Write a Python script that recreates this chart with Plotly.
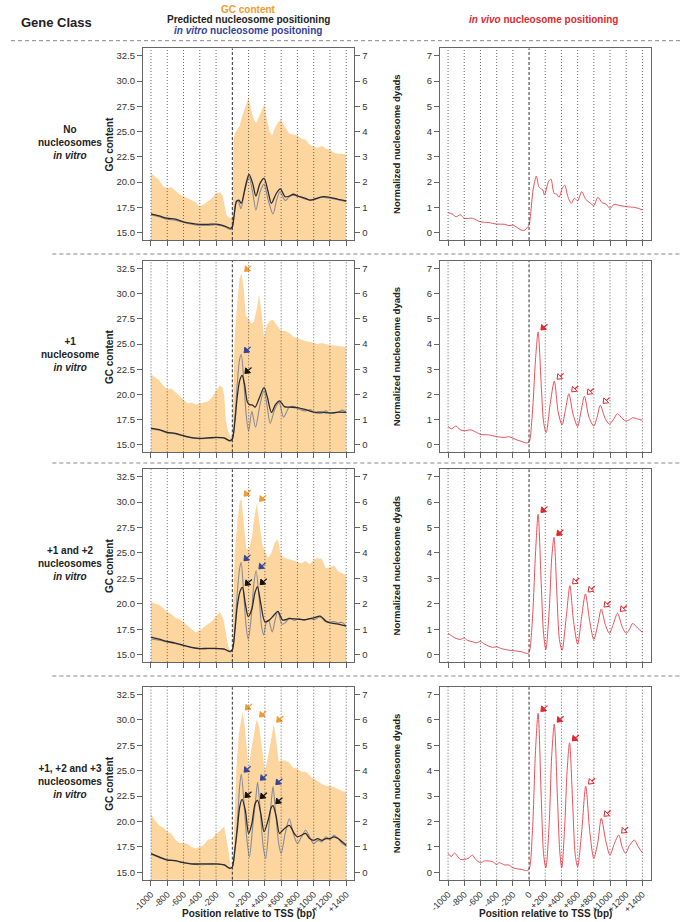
import plotly.graph_objects as go

W, H = 682, 922
FONT = "Liberation Sans, Arial, sans-serif"

# ---------------- data ----------------
X_TICKS = [-1000, -800, -600, -400, -200, 0, 200, 400, 600, 800, 1000, 1200, 1400]
X_LABELS = ["-1000", "-800", "-600", "-400", "-200", "0", "+200", "+400", "+600",
            "+800", "+1000", "+1200", "+1400"]
GC_TICKS = [15.0, 17.5, 20.0, 22.5, 25.0, 27.5, 30.0, 32.5]
NUC_TICKS = [0, 1, 2, 3, 4, 5, 6, 7]

ROW_LABELS = ["No<br>nucleosomes<br><i>in vitro</i>",
              "+1<br>nucleosome<br><i>in vitro</i>",
              "+1 and +2<br>nucleosomes<br><i>in vitro</i>",
              "+1, +2 and +3<br>nucleosomes<br><i>in vitro</i>"]

# GC content (%), position (bp)
gc1 = [(-1000, 20.9), (-950, 20.5), (-900, 20.2), (-850, 19.6), (-800, 19.4), (-750, 19.5), (-700, 19.1),
       (-650, 18.8), (-600, 18.6), (-550, 18.4), (-500, 18.2), (-450, 18.0), (-400, 17.6), (-350, 17.8),
       (-300, 18.1), (-250, 18.4), (-200, 18.9), (-150, 19.0), (-120, 18.7), (-100, 17.9), (-85, 17.0),
       (-70, 16.7), (-40, 16.5), (-10, 16.4), (0, 16.8), (15, 24.3), (30, 24.8), (60, 25.2), (90, 25.6),
       (120, 26.5), (160, 27.5), (200, 28.4), (230, 27.2), (260, 26.3), (290, 25.8), (330, 26.5),
       (370, 27.3), (395, 27.7), (420, 26.4), (460, 25.0), (490, 24.6), (520, 25.3), (560, 25.9),
       (600, 26.2), (640, 25.5), (700, 24.8), (750, 24.7), (800, 24.6), (850, 24.3), (900, 24.2),
       (950, 23.7), (1000, 23.5), (1050, 23.4), (1100, 23.6), (1150, 23.3), (1200, 23.2), (1250, 22.9),
       (1300, 22.8), (1350, 22.8), (1400, 22.7)]
gc2 = [(-1000, 22.0), (-950, 21.7), (-900, 21.4), (-850, 20.9), (-800, 20.5), (-750, 20.6), (-700, 20.2),
       (-650, 19.9), (-600, 19.4), (-550, 19.1), (-500, 19.2), (-450, 19.0), (-400, 19.1), (-350, 19.2),
       (-300, 19.3), (-250, 19.7), (-200, 20.4), (-150, 20.9), (-120, 20.7), (-100, 19.9), (-80, 17.5),
       (-50, 16.3), (-20, 15.8), (0, 16.0), (10, 20.0), (30, 26.0), (60, 29.0), (90, 31.5), (115, 32.0),
       (140, 30.5), (165, 27.8), (200, 27.5), (240, 27.0), (265, 27.2), (300, 28.5), (330, 29.9),
       (360, 28.0), (390, 25.6), (420, 26.8), (460, 27.3), (500, 27.4), (550, 26.8), (600, 26.3),
       (650, 26.3), (700, 26.1), (750, 25.7), (800, 25.6), (900, 25.3), (1000, 25.1), (1050, 25.0),
       (1100, 25.1), (1200, 24.9), (1300, 24.8), (1400, 24.7)]
gc3 = [(-1000, 20.2), (-950, 20.0), (-900, 19.9), (-850, 19.6), (-800, 19.2), (-750, 19.0), (-700, 18.6),
       (-650, 18.5), (-600, 18.2), (-550, 17.8), (-500, 17.5), (-450, 17.2), (-400, 17.4), (-350, 17.7),
       (-300, 18.0), (-250, 18.3), (-200, 18.8), (-150, 19.2), (-110, 18.5), (-80, 17.0), (-50, 15.8),
       (-20, 15.4), (0, 15.6), (10, 20.0), (30, 25.0), (60, 28.0), (90, 30.0), (110, 30.4), (140, 28.0),
       (170, 25.5), (200, 25.3), (240, 26.5), (270, 28.5), (300, 29.9), (340, 27.5), (370, 25.8),
       (410, 25.0), (440, 24.5), (480, 25.0), (520, 26.0), (560, 26.4), (590, 25.0), (620, 24.6),
       (700, 24.4), (800, 24.1), (850, 24.0), (900, 24.2), (950, 23.9), (1000, 24.3), (1050, 24.5),
       (1100, 24.4), (1150, 23.5), (1200, 23.6), (1250, 23.8), (1300, 23.2), (1350, 23.0), (1400, 22.8)]
gc4 = [(-1000, 20.8), (-950, 20.1), (-900, 19.6), (-850, 19.45), (-800, 19.0), (-750, 18.8), (-700, 18.2),
       (-650, 17.9), (-600, 17.9), (-550, 17.8), (-500, 17.5), (-450, 17.35), (-400, 17.5), (-350, 17.7),
       (-300, 18.2), (-250, 18.3), (-200, 18.8), (-150, 19.1), (-100, 19.5), (-75, 18.5), (-50, 17.2),
       (-20, 15.6), (0, 15.4), (15, 17.5), (30, 22.0), (50, 25.3), (80, 28.6), (110, 30.2), (125, 30.8),
       (150, 29.5), (180, 27.0), (200, 25.3), (230, 27.0), (270, 28.9), (300, 30.1), (330, 29.3),
       (370, 26.6), (400, 25.0), (430, 26.0), (470, 28.0), (510, 29.6), (540, 28.0), (570, 25.9),
       (600, 26.0), (650, 26.0), (700, 25.8), (750, 25.3), (800, 25.2), (850, 24.9), (900, 24.9),
       (950, 24.5), (1000, 24.2), (1050, 24.0), (1100, 23.7), (1150, 23.5), (1200, 23.5), (1250, 23.4),
       (1300, 23.2), (1350, 23.0), (1400, 22.9)]

# Predicted nucleosome positioning (normalized dyads)
pred1 = [(-1000, 0.74), (-900, 0.66), (-800, 0.57), (-700, 0.54), (-600, 0.43), (-500, 0.37), (-400, 0.33),
         (-300, 0.33), (-200, 0.34), (-100, 0.27), (-20, 0.17), (0, 0.24), (20, 0.63), (50, 1.22), (80, 1.29),
         (110, 1.16), (160, 1.82), (205, 2.31), (250, 1.95), (290, 1.45), (340, 1.95), (390, 2.15),
         (440, 1.62), (480, 1.16), (540, 1.55), (590, 1.73), (650, 1.42), (700, 1.45), (750, 1.52),
         (800, 1.46), (900, 1.36), (950, 1.29), (1000, 1.32), (1100, 1.42), (1200, 1.40), (1300, 1.32),
         (1400, 1.26)]
pred2 = [(-1000, 0.66), (-900, 0.61), (-800, 0.50), (-700, 0.46), (-600, 0.37), (-500, 0.29), (-400, 0.26),
         (-300, 0.28), (-200, 0.30), (-100, 0.28), (-30, 0.17), (0, 0.24), (30, 0.9), (60, 1.9), (90, 2.55),
         (120, 2.76), (150, 2.4), (185, 1.7), (210, 1.6), (250, 1.58), (280, 1.5), (330, 1.85), (390, 2.27),
         (430, 1.9), (480, 1.29), (530, 1.6), (580, 1.75), (640, 1.52), (700, 1.5), (800, 1.48),
         (900, 1.40), (1000, 1.30), (1100, 1.30), (1200, 1.27), (1300, 1.30), (1400, 1.29)]
pred3 = [(-1000, 0.69), (-900, 0.61), (-800, 0.52), (-700, 0.46), (-600, 0.37), (-500, 0.29), (-400, 0.24),
         (-300, 0.25), (-200, 0.25), (-100, 0.22), (-30, 0.13), (0, 0.2), (30, 0.9), (60, 1.9), (95, 2.5),
         (124, 2.65), (160, 2.0), (195, 1.5), (240, 1.8), (275, 2.4), (308, 2.68), (350, 2.0), (400, 1.3),
         (450, 1.35), (510, 1.55), (560, 1.7), (620, 1.36), (700, 1.42), (800, 1.40), (900, 1.38),
         (1000, 1.45), (1080, 1.52), (1150, 1.32), (1200, 1.25), (1300, 1.2), (1400, 1.12)]
pred4 = [(-1000, 0.74), (-900, 0.61), (-800, 0.48), (-700, 0.46), (-600, 0.38), (-500, 0.33), (-400, 0.33),
         (-300, 0.33), (-200, 0.33), (-100, 0.29), (-30, 0.16), (0, 0.22), (30, 0.87), (60, 1.66), (90, 2.57),
         (120, 2.87), (160, 2.44), (200, 1.53), (240, 1.92), (280, 2.7), (310, 2.83), (350, 2.31),
         (390, 1.6), (440, 2.05), (480, 2.57), (500, 2.63), (540, 2.18), (580, 1.53), (620, 1.66),
         (700, 1.85), (760, 1.53), (800, 1.40), (850, 1.46), (900, 1.53), (950, 1.33), (1000, 1.26),
         (1050, 1.33), (1100, 1.26), (1150, 1.33), (1200, 1.33), (1250, 1.40), (1300, 1.33), (1350, 1.2),
         (1400, 1.07)]

# In vitro nucleosome positioning (normalized dyads)
vitro1 = [(-1000, 0.70), (-900, 0.63), (-800, 0.53), (-700, 0.49), (-600, 0.40), (-500, 0.33), (-400, 0.29),
          (-300, 0.29), (-200, 0.31), (-100, 0.24), (-20, 0.13), (0, 0.2), (20, 0.6), (50, 1.27), (75, 1.25),
          (105, 0.95), (150, 1.6), (205, 2.2), (250, 1.6), (290, 0.9), (340, 1.6), (390, 1.92), (440, 1.3),
          (500, 0.74), (545, 1.3), (585, 1.62), (650, 1.27), (700, 1.42), (760, 1.48), (800, 1.44),
          (900, 1.32), (950, 1.30), (1000, 1.30), (1100, 1.40), (1200, 1.36), (1300, 1.30), (1400, 1.22)]
vitro2 = [(-1000, 0.64), (-900, 0.59), (-800, 0.48), (-700, 0.44), (-600, 0.35), (-500, 0.28), (-400, 0.25),
          (-300, 0.27), (-200, 0.29), (-100, 0.27), (-30, 0.15), (0, 0.22), (30, 1.0), (60, 2.4), (90, 3.4),
          (110, 3.58), (140, 2.6), (170, 1.2), (200, 0.55), (240, 1.33), (285, 0.7), (340, 1.6), (390, 2.15),
          (430, 1.5), (465, 0.85), (520, 1.4), (575, 1.68), (630, 1.1), (700, 1.5), (760, 1.52), (800, 1.45),
          (900, 1.35), (960, 1.4), (1000, 1.3), (1100, 1.26), (1150, 1.35), (1200, 1.25), (1300, 1.30),
          (1350, 1.38), (1400, 1.3)]
vitro3 = [(-1000, 0.62), (-900, 0.57), (-800, 0.50), (-700, 0.44), (-600, 0.35), (-500, 0.28), (-400, 0.24),
          (-300, 0.24), (-200, 0.24), (-100, 0.22), (-30, 0.11), (0, 0.18), (30, 1.0), (60, 2.4), (90, 3.4),
          (108, 3.62), (140, 2.4), (170, 1.1), (195, 0.6), (230, 1.4), (265, 2.8), (292, 3.3), (330, 2.2),
          (360, 1.1), (385, 0.78), (420, 1.3), (445, 1.35), (490, 0.9), (525, 1.35), (560, 1.72), (610, 1.2),
          (650, 1.25), (700, 1.45), (760, 1.35), (820, 1.42), (880, 1.35), (950, 1.42), (1000, 1.38),
          (1080, 1.48), (1150, 1.3), (1250, 1.3), (1300, 1.25), (1350, 1.27), (1400, 1.12)]
vitro4 = [(-1000, 0.72), (-900, 0.58), (-800, 0.50), (-700, 0.45), (-600, 0.38), (-500, 0.32), (-400, 0.30),
          (-300, 0.31), (-200, 0.32), (-100, 0.30), (-30, 0.14), (0, 0.2), (30, 0.8), (60, 1.9), (90, 3.4),
          (110, 3.87), (150, 2.44), (180, 1.26), (210, 0.61), (250, 1.79), (290, 2.96), (310, 3.55),
          (340, 2.57), (380, 1.0), (410, 0.55), (450, 1.79), (480, 2.83), (500, 3.38), (530, 2.44),
          (570, 1.13), (600, 0.74), (650, 1.53), (700, 2.11), (750, 1.53), (800, 1.13), (850, 1.40),
          (900, 1.66), (950, 1.40), (1000, 1.13), (1050, 1.26), (1100, 1.2), (1150, 1.40), (1200, 1.29),
          (1250, 1.46), (1300, 1.33), (1350, 1.13), (1400, 1.04)]

# In vivo nucleosome positioning (normalized dyads)
vivo1 = [(-1000, 0.79), (-950, 0.74), (-900, 0.63), (-850, 0.71), (-800, 0.57), (-700, 0.57), (-650, 0.5),
         (-600, 0.43), (-500, 0.40), (-400, 0.34), (-300, 0.33), (-250, 0.28), (-200, 0.30), (-150, 0.21),
         (-100, 0.11), (-60, 0.09), (-20, 0.21), (0, 0.30), (20, 0.76), (50, 1.69), (90, 2.24), (120, 1.82),
         (140, 1.75), (170, 1.69), (190, 1.49), (240, 2.02), (270, 2.12), (310, 1.55), (340, 1.53),
         (370, 1.40), (410, 1.75), (440, 1.88), (480, 1.42), (520, 1.16), (560, 1.36), (600, 1.26),
         (650, 1.62), (700, 1.32), (760, 1.16), (800, 1.07), (850, 1.40), (900, 1.19), (950, 1.13),
         (1000, 0.96), (1050, 1.12), (1100, 1.09), (1200, 1.03), (1300, 1.0), (1350, 0.96), (1400, 0.90)]
vivo2 = [(-1000, 0.73), (-960, 0.64), (-920, 0.72), (-900, 0.75), (-850, 0.6), (-800, 0.56), (-720, 0.6),
         (-650, 0.5), (-600, 0.42), (-500, 0.4), (-400, 0.33), (-300, 0.3), (-250, 0.33), (-200, 0.27),
         (-150, 0.2), (-100, 0.15), (-30, 0.08), (0, 0.12), (40, 1.2), (80, 3.4), (112, 4.48), (150, 2.4),
         (180, 0.9), (212, 0.49), (260, 1.6), (312, 2.53), (360, 1.3), (408, 0.8), (450, 1.4), (492, 2.03),
         (545, 1.2), (600, 0.73), (640, 1.3), (684, 1.93), (740, 1.1), (800, 0.75), (840, 1.1), (880, 1.57),
         (940, 1.05), (992, 0.83), (1040, 1.0), (1092, 1.24), (1150, 1.05), (1200, 0.95), (1240, 1.0),
         (1280, 1.08), (1340, 1.03), (1400, 0.98)]
vivo3 = [(-1000, 0.84), (-950, 0.73), (-900, 0.64), (-850, 0.6), (-800, 0.66), (-770, 0.58), (-700, 0.51),
         (-650, 0.47), (-600, 0.52), (-550, 0.42), (-500, 0.34), (-450, 0.29), (-400, 0.31), (-350, 0.25),
         (-300, 0.21), (-250, 0.18), (-200, 0.16), (-100, 0.12), (-20, 0.05), (0, 0.08), (40, 1.3), (80, 4.0),
         (112, 5.52), (150, 2.8), (180, 0.8), (208, 0.21), (250, 1.8), (280, 3.8), (308, 4.61), (345, 2.3),
         (375, 0.6), (408, 0.18), (460, 1.5), (504, 2.71), (550, 1.3), (600, 0.42), (650, 1.5), (696, 2.39),
         (750, 1.3), (800, 0.6), (850, 1.2), (892, 1.8), (940, 1.2), (992, 0.84), (1040, 1.2), (1092, 1.63),
         (1150, 1.1), (1200, 0.84), (1240, 1.0), (1280, 1.23), (1340, 1.05), (1400, 0.88)]
vivo4 = [(-1000, 0.75), (-960, 0.62), (-920, 0.76), (-880, 0.62), (-850, 0.51), (-800, 0.51), (-750, 0.55),
         (-700, 0.68), (-660, 0.51), (-600, 0.38), (-550, 0.45), (-500, 0.45), (-450, 0.42), (-400, 0.31),
         (-370, 0.38), (-300, 0.29), (-250, 0.29), (-200, 0.18), (-150, 0.14), (-100, 0.12), (-30, 0.07),
         (0, 0.12), (40, 1.5), (80, 4.8), (112, 6.26), (150, 3.0), (180, 0.7), (208, 0.18), (250, 2.0),
         (280, 4.6), (312, 5.84), (350, 3.0), (380, 0.8), (404, 0.18), (440, 1.8), (470, 4.0), (500, 5.1),
         (540, 2.6), (570, 0.7), (600, 0.22), (650, 1.6), (700, 3.4), (750, 1.6), (800, 0.55), (850, 1.2),
         (892, 2.13), (950, 1.2), (1000, 0.68), (1050, 1.1), (1108, 1.47), (1150, 1.0), (1192, 0.75),
         (1240, 1.05), (1300, 1.27), (1350, 1.0), (1400, 0.77)]

# Arrowed peaks: (position, value[, filled])
gc_arrows = [[], [(118, 32.0)], [(110, 30.4), (300, 29.9)], [(125, 30.8), (300, 30.1), (510, 29.6)]]
vitro_arrows = [[], [(110, 3.58)], [(108, 3.62), (292, 3.3)], [(110, 3.87), (310, 3.55), (500, 3.38)]]
pred_arrows = [[], [(120, 2.76)], [(124, 2.65), (308, 2.68)], [(120, 2.87), (310, 2.83), (500, 2.63)]]
vivo_arrows = [[],
               [(112, 4.48, True), (312, 2.53, False), (492, 2.03, False), (684, 1.93, False), (880, 1.57, False)],
               [(112, 5.52, True), (308, 4.61, True), (504, 2.71, False), (696, 2.39, False), (892, 1.8, False),
                (1092, 1.63, False)],
               [(112, 6.26, True), (312, 5.84, True), (500, 5.1, True), (700, 3.4, False), (892, 2.13, False),
                (1108, 1.47, False)]]

GC_SERIES = [gc1, gc2, gc3, gc4]
PRED_SERIES = [pred1, pred2, pred3, pred4]
VITRO_SERIES = [vitro1, vitro2, vitro3, vitro4]
VIVO_SERIES = [vivo1, vivo2, vivo3, vivo4]

# ---------------- styling / layout ----------------
C_FILL = "#fdd59f"
C_ORANGE = "#f29a2e"
C_PRED = "#2b2b2b"
C_VITRO = "#8b8b98"
C_BLUE = "#34449a"
C_VIVO = "#e8505a"
C_RED = "#e0282e"
C_AX = "#666666"
C_TXT = "#333333"

X_RANGE = [-1100, 1500]
NUC_RANGE = [-0.29, 7.29]
GC_RANGE = [15 + 2.5 * NUC_RANGE[0], 15 + 2.5 * NUC_RANGE[1]]

LEFT_PX = (134, 349)
RIGHT_PX = (436, 650)
ROW_PX = [(48.4, 240.0), (261.0, 452.3), (469.3, 662.1), (687.2, 879.7)]

BP_PER_PX = (X_RANGE[1] - X_RANGE[0]) / (LEFT_PX[1] - LEFT_PX[0])


def pxx(p):
    return p / W


def pxy(p):
    return 1 - p / H


def split(pairs):
    return [p[0] for p in pairs], [p[1] for p in pairs]


fig = go.Figure()
layout = dict(width=W, height=H, margin=dict(l=0, r=0, t=0, b=0),
              paper_bgcolor="white", plot_bgcolor="white", showlegend=False,
              font=dict(family=FONT, size=9.5, color=C_TXT))
shapes = []
annotations = []

tickfont = dict(family=FONT, size=9.5, color=C_TXT)
xtickfont = dict(family=FONT, size=9, color=C_TXT)


def axname(kind, n):
    return f"{kind}axis" if n == 1 else f"{kind}axis{n}"


def ref(kind, n):
    return kind if n == 1 else f"{kind}{n}"


def label(x, y, text, size=10, color="#222", xanchor="center", angle=0):
    annotations.append(dict(x=pxx(x), y=pxy(y), xref="paper", yref="paper", text=text,
                            xanchor=xanchor, yanchor="middle", textangle=angle, showarrow=False,
                            align="center", font=dict(family=FONT, size=size, color=color)))


for r in range(4):
    xl, xr = 2 * r + 1, 2 * r + 2
    yg, yn, yv = 3 * r + 1, 3 * r + 2, 3 * r + 3
    top, bot = ROW_PX[r]
    ydom = [pxy(bot), pxy(top)]
    bottom = (r == 3)
    for xn, xdom, ya in ((xl, LEFT_PX, yg), (xr, RIGHT_PX, yv)):
        layout[axname("x", xn)] = dict(
            domain=[pxx(xdom[0]), pxx(xdom[1])], anchor=ref("y", ya), range=X_RANGE,
            tickmode="array", tickvals=X_TICKS, ticktext=X_LABELS, showticklabels=bottom,
            tickangle=-45, ticks="outside", ticklen=5, tickcolor=C_AX, tickwidth=1,
            showline=True, mirror=True, linecolor=C_AX, linewidth=1,
            showgrid=False, zeroline=False, tickfont=xtickfont, fixedrange=True)
    layout[axname("y", yg)] = dict(
        domain=ydom, anchor=ref("x", xl), range=GC_RANGE, tickmode="array", tickvals=GC_TICKS,
        ticktext=[f"{v:.1f}" for v in GC_TICKS], ticks="outside", ticklen=5, tickcolor=C_AX,
        showline=True, mirror=True, linecolor=C_AX, linewidth=1, showgrid=False, zeroline=False,
        tickfont=tickfont, fixedrange=True)
    layout[axname("y", yn)] = dict(
        overlaying=ref("y", yg), side="right", anchor=ref("x", xl), range=NUC_RANGE,
        tickmode="array", tickvals=NUC_TICKS, ticks="outside", ticklen=5, tickcolor=C_AX,
        showline=True, linecolor=C_AX, linewidth=1, showgrid=False, zeroline=False, tickfont=tickfont,
        fixedrange=True)
    layout[axname("y", yv)] = dict(
        domain=ydom, anchor=ref("x", xr), range=NUC_RANGE, tickmode="array", tickvals=NUC_TICKS,
        ticks="outside", ticklen=5, tickcolor=C_AX, showline=True, mirror=True, linecolor=C_AX,
        linewidth=1, showgrid=False, zeroline=False, tickfont=tickfont, fixedrange=True)

    # traces
    gx, gy = split(GC_SERIES[r])
    fig.add_trace(go.Scatter(x=gx, y=gy, xaxis=ref("x", xl), yaxis=ref("y", yg), mode="lines",
                             line=dict(width=0, color=C_FILL), fill="tozeroy", fillcolor=C_FILL,
                             hoverinfo="skip"))
    vx, vy = split(VITRO_SERIES[r])
    fig.add_trace(go.Scatter(x=vx, y=vy, xaxis=ref("x", xl), yaxis=ref("y", yn), mode="lines",
                             line=dict(width=1.1, color=C_VITRO, shape="spline", smoothing=0.8),
                             hoverinfo="skip"))
    px_, py_ = split(PRED_SERIES[r])
    fig.add_trace(go.Scatter(x=px_, y=py_, xaxis=ref("x", xl), yaxis=ref("y", yn), mode="lines",
                             line=dict(width=1.3, color=C_PRED, shape="spline", smoothing=0.8),
                             hoverinfo="skip"))
    ix, iy = split(VIVO_SERIES[r])
    fig.add_trace(go.Scatter(x=ix, y=iy, xaxis=ref("x", xr), yaxis=ref("y", yv), mode="lines",
                             line=dict(width=1.0, color=C_VIVO, shape="spline", smoothing=0.8),
                             hoverinfo="skip"))

    # arrows pointing at the peaks
    def arrows(pts, xa, ya, color, upp):
        for pt in pts:
            filled = pt[2] if len(pt) > 2 else True
            hx = pt[0] + 5 * BP_PER_PX
            hy = pt[1] + 4 * upp
            annotations.append(dict(x=hx, y=hy, xref=ref("x", xa), yref=ref("y", ya), text="",
                                    showarrow=True, arrowhead=0, ax=6, ay=-5, arrowwidth=1.2,
                                    arrowcolor=color, standoff=1.5))
            fig.add_trace(go.Scatter(
                x=[hx], y=[hy], xaxis=ref("x", xa), yaxis=ref("y", ya), mode="markers",
                marker=dict(symbol="triangle-up" if filled else "triangle-up-open", angle=225,
                            size=6, color=color, line=dict(width=1, color=color)),
                hoverinfo="skip"))

    nuc_upp = (NUC_RANGE[1] - NUC_RANGE[0]) / (bot - top)
    gc_upp = 2.5 * nuc_upp
    arrows(gc_arrows[r], xl, yg, C_ORANGE, gc_upp)
    arrows(vitro_arrows[r], xl, yn, C_BLUE, nuc_upp)
    arrows(pred_arrows[r], xl, yn, "#111111", nuc_upp)
    arrows(vivo_arrows[r], xr, yv, C_RED, nuc_upp)

    # vertical grid lines (drawn above the fill)
    for xn, ya in ((xl, yg), (xr, yv)):
        for t in X_TICKS:
            if t == 0:
                ln = dict(color="#333333", width=1, dash="3px,2px")
            else:
                ln = dict(color="#444444", width=0.8, dash="1px,2px")
            shapes.append(dict(type="line", xref=ref("x", xn), yref=ref("y", ya) + " domain",
                               x0=t, x1=t, y0=0, y1=1, layer="above", line=ln))

    # axis titles and row labels
    mid = (top + bot) / 2
    label(100, mid, "<b>GC content</b>", size=10, angle=-90)
    label(392, mid, "<b>Normalized nucleosome dyads</b>", size=9.5, angle=-90)
    label(60, mid - 2, "<b>" + ROW_LABELS[r] + "</b>", size=10)

# x-axis titles
for cx in ((LEFT_PX[0] + LEFT_PX[1]) / 2, (RIGHT_PX[0] + RIGHT_PX[1]) / 2):
    label(cx, 913, "<b>Position relative to TSS (bp)</b>", size=10)

# header
label(8, 22, "<b>Gene Class</b>", size=13, xanchor="left")
label(241, 9, "<b>GC content</b>", size=10, color=C_ORANGE)
label(241, 20, "<b>Predicted nucleosome positioning</b>", size=10)
label(241, 31, "<b><i>in vitro</i> nucleosome positoning</b>", size=10, color=C_BLUE)
label(541, 20, "<b><i>in vivo</i> nucleosome positioning</b>", size=10, color=C_RED)

# dashed separators
for yp, x0 in ((40.7, 0), (254, 42), (463, 42), (676, 42)):
    shapes.append(dict(type="line", xref="paper", yref="paper", x0=pxx(x0), x1=1, y0=pxy(yp), y1=pxy(yp),
                       line=dict(color="#888888", width=1, dash="4px,3px")))

layout["shapes"] = shapes
layout["annotations"] = annotations
fig.update_layout(**layout)
fig.write_html("out.html", config={"displayModeBar": False, "staticPlot": True},
               post_script="document.body.style.margin='0px';document.body.style.overflow='hidden';")
